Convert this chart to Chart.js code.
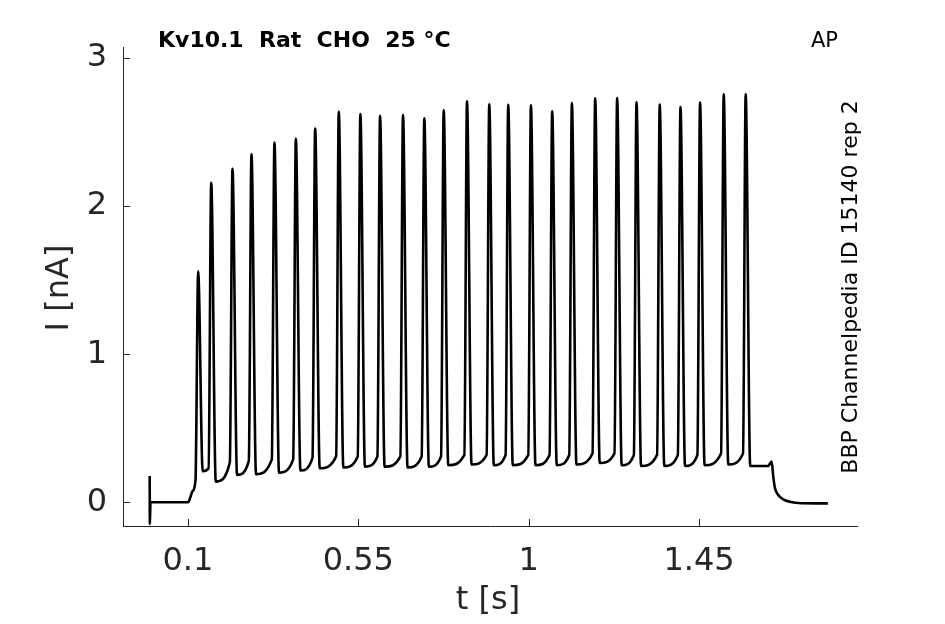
<!DOCTYPE html>
<html lang="en">
<head>
    <meta charset="UTF-8">
    <title>Kv10.1 Rat CHO 25 °C - AP</title>
    <script src="https://cdn.jsdelivr.net/npm/chart.js"></script>
    <style>
        body {
            margin: 0;
            background: #ffffff;
            overflow: hidden;
        }
        canvas {
            display: block;
        }
    </style>
</head>
<body>
    <canvas id="apChart" width="945" height="624"></canvas>
    <script>
        // Tick values
        const xTicks = [0.1, 0.55, 1, 1.45];
        const yTicks = [0, 1, 2, 3];

        // Before the step: capacitive artefact, baseline and the rise into the first spike
        const onsetT = [-0.001, -0.0005, 0.001, 0.05, 0.1, 0.106, 0.112];
        const onsetI = [0.177, -0.146, 0.0, 0.0, 0.0, 0.03, 0.075];

        // Spike times [s] and peak currents [nA]
        const spikeT = [0.127, 0.1615, 0.2177, 0.2678, 0.3285, 0.385, 0.436, 0.4984, 0.5554,
            0.6074, 0.668, 0.7243, 0.7755, 0.837, 0.8958, 0.9459, 1.0058, 1.062, 1.114,
            1.1755, 1.2335, 1.2847, 1.346, 1.4008, 1.4525, 1.515, 1.573];
        const spikePeak = [1.56, 2.158, 2.252, 2.351, 2.43, 2.455, 2.524, 2.637, 2.623,
            2.61, 2.616, 2.593, 2.647, 2.708, 2.688, 2.684, 2.681, 2.641, 2.697,
            2.728, 2.731, 2.701, 2.686, 2.67, 2.699, 2.755, 2.755];
        // current a few ms before each spike and minimum just after it [nA]
        const preSpike = [0.15, 0.23, 0.27, 0.28, 0.29, 0.29, 0.3, 0.31, 0.31,
            0.31, 0.31, 0.31, 0.31, 0.32, 0.32, 0.32, 0.32, 0.32, 0.32,
            0.33, 0.33, 0.32, 0.32, 0.32, 0.32, 0.33, 0.33];
        const troughI = [0.21, 0.14, 0.185, 0.19, 0.2, 0.215, 0.23, 0.235, 0.24,
            0.24, 0.235, 0.24, 0.25, 0.255, 0.25, 0.25, 0.25, 0.25, 0.255,
            0.265, 0.25, 0.245, 0.245, 0.245, 0.25, 0.255, 0.245];

        // After the last spike: small bump and decay back to baseline
        const offT = [1.632, 1.6416, 1.646, 1.6505, 1.659, 1.672, 1.689, 1.72, 1.79];
        const offI = [0.245, 0.275, 0.17, 0.094, 0.05, 0.02, 0.004, -0.006, -0.007];

        const PRE_DT = 0.007;     // s before the peak
        const TROUGH_DT = 0.012;  // s after the peak

        const trace = [];
        onsetT.forEach((t, i) => trace.push({ x: t, y: onsetI[i] }));
        spikeT.forEach((t, i) => {
            trace.push({ x: t - PRE_DT, y: preSpike[i] });
            trace.push({ x: t, y: spikePeak[i] });
            trace.push({ x: t + TROUGH_DT, y: troughI[i] });
        });
        offT.forEach((t, i) => trace.push({ x: t, y: offI[i] }));

        Chart.defaults.font.family = "'DejaVu Sans', sans-serif";
        Chart.defaults.color = '#262626';

        const axisColor = '#262626';

        // MATLAB-like inward ticks and free text
        const decorPlugin = {
            id: 'decor',
            afterDraw(chart) {
                const ctx = chart.ctx;
                const xs = chart.scales.x;
                const ys = chart.scales.y;
                const area = chart.chartArea;
                ctx.save();
                ctx.strokeStyle = axisColor;
                ctx.lineWidth = 1;
                ctx.beginPath();
                xTicks.forEach(v => {
                    const px = Math.round(xs.getPixelForValue(v)) + 0.5;
                    ctx.moveTo(px, area.bottom);
                    ctx.lineTo(px, area.bottom - 7);
                });
                yTicks.forEach(v => {
                    const py = Math.round(ys.getPixelForValue(v)) + 0.5;
                    ctx.moveTo(area.left, py);
                    ctx.lineTo(area.left + 7, py);
                });
                ctx.stroke();

                ctx.fillStyle = '#000000';
                ctx.textBaseline = 'alphabetic';
                ctx.textAlign = 'left';
                ctx.font = "bold 22px 'DejaVu Sans'";
                ctx.fillText('Kv10.1  Rat  CHO  25 °C', 158, 47);
                ctx.font = "21px 'DejaVu Sans'";
                ctx.fillText('AP', 811, 47);

                ctx.save();
                ctx.translate(857, 287);
                ctx.rotate(-Math.PI / 2);
                ctx.textAlign = 'center';
                ctx.font = "22px 'DejaVu Sans'";
                ctx.fillText('BBP Channelpedia ID 15140 rep 2', 0, 0);
                ctx.restore();

                ctx.fillStyle = '#262626';
                ctx.font = "32px 'DejaVu Sans'";
                ctx.textAlign = 'center';
                ctx.textBaseline = 'middle';
                ctx.fillText('t [s]', 488, 601);
                ctx.save();
                ctx.translate(60, 288);
                ctx.rotate(-Math.PI / 2);
                ctx.fillText('I [nA]', 0, 0);
                ctx.restore();
                ctx.restore();
            }
        };

        new Chart(document.getElementById('apChart'), {
            type: 'scatter',
            data: {
                datasets: [{
                    data: trace,
                    showLine: true,
                    borderColor: '#000000',
                    borderWidth: 2.6,
                    borderJoinStyle: 'round',
                    cubicInterpolationMode: 'monotone',
                    pointRadius: 0,
                    fill: false
                }]
            },
            options: {
                responsive: false,
                animation: false,
                devicePixelRatio: 1,
                layout: {
                    padding: { top: 47, right: 88, left: 0, bottom: 0 }
                },
                plugins: {
                    legend: { display: false },
                    tooltip: { enabled: false }
                },
                scales: {
                    x: {
                        type: 'linear',
                        min: -0.0715,
                        max: 1.867,
                        afterFit: scale => { scale.height = 98; },
                        afterBuildTicks: scale => {
                            scale.ticks = xTicks.map(v => ({ value: v }));
                        },
                        grid: { display: false, drawTicks: false },
                        border: { display: true, color: axisColor, width: 1 },
                        ticks: {
                            padding: 16,
                            maxRotation: 0,
                            font: { size: 32 },
                            color: '#262626',
                            callback: v => String(v)
                        }
                    },
                    y: {
                        type: 'linear',
                        min: -0.16,
                        max: 3.075,
                        afterFit: scale => { scale.width = 123; },
                        afterBuildTicks: scale => {
                            scale.ticks = yTicks.map(v => ({ value: v }));
                        },
                        grid: { display: false, drawTicks: false },
                        border: { display: true, color: axisColor, width: 1 },
                        ticks: {
                            padding: 16,
                            font: { size: 32 },
                            color: '#262626',
                            callback: v => String(v)
                        }
                    }
                }
            },
            plugins: [decorPlugin]
        });
    </script>
</body>
</html>
